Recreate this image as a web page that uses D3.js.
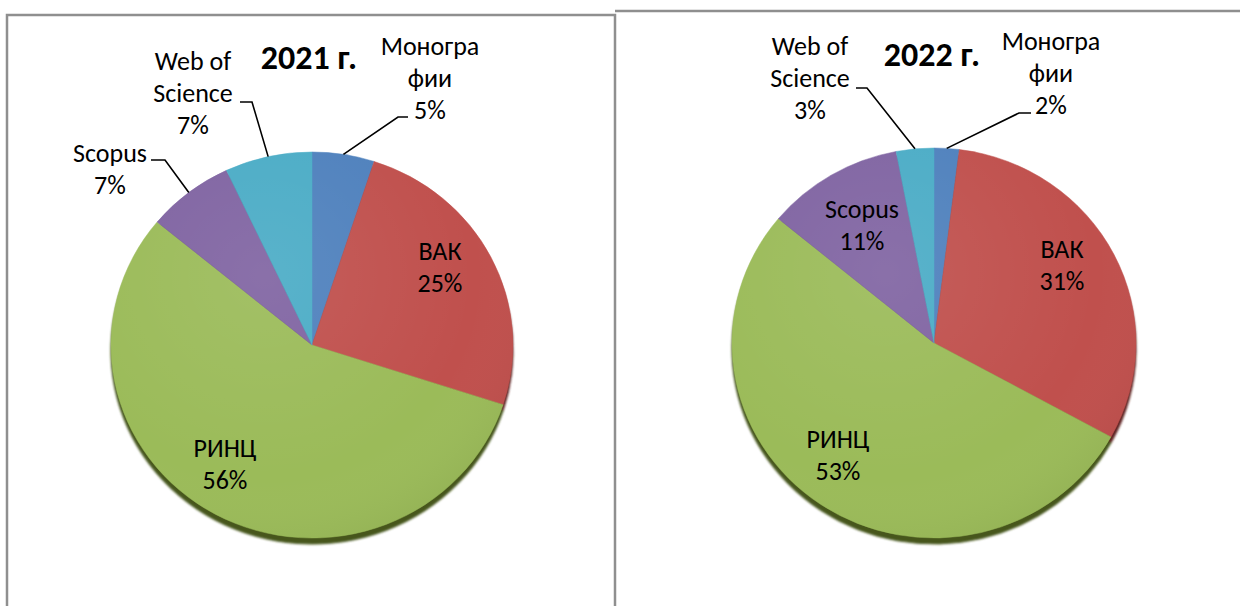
<!DOCTYPE html>
<html>
<head>
<meta charset="utf-8">
<script src="https://cdn.jsdelivr.net/npm/d3@7"></script>
<style>
  body { margin: 0; background: #fff; }
  svg { display: block; }
  text { font-family: Carlito, Calibri, Lato, sans-serif; fill: #000; }
</style>
</head>
<body>
<svg id="chart" width="1240" height="606"></svg>
<script>
// --- Données ---
const categories = ["Монографии", "ВАК", "РИНЦ", "Scopus", "Web of Science"];
const labelLines = [["Моногра", "фии"], ["ВАК"], ["РИНЦ"], ["Scopus"], ["Web of", "Science"]];
const values2021 = [5, 25, 56, 7, 7];
const values2022 = [2, 31, 53, 11, 3];
const years = ["2021 г.", "2022 г."];

const colors = ["#4F81BD", "#C0504D", "#9BBB59", "#8064A2", "#4BACC6"];
const shadowColors = ["#26405f", "#5e2321", "#46571f", "#3c2f50", "#215a6a"];

// --- Mise en page de chaque diagramme ---
const panels = [
  {
    values: values2021, title: years[0],
    cx: 312, cy: 345, rx: 201, ry: 193, titleX: 309, titleY: 69,
    labels: [
      { x: 430, y: 55, elbow: [398, 117], end: [408, 117] },
      { x: 440, y: 260 },
      { x: 225, y: 457 },
      { x: 110, y: 162, elbow: [165, 160], end: [151, 160] },
      { x: 193, y: 70, elbow: [252, 102], end: [240, 102] }
    ]
  },
  {
    values: values2022, title: years[1],
    cx: 934, cy: 343, rx: 202, ry: 195, titleX: 932, titleY: 66,
    labels: [
      { x: 1051, y: 50, elbow: [1019, 113], end: [1031, 113] },
      { x: 1062, y: 258 },
      { x: 838, y: 448 },
      { x: 862, y: 218 },
      { x: 810, y: 55, elbow: [867, 88], end: [856, 88] }
    ]
  }
];

const svg = d3.select("#chart");
const defs = svg.append("defs");

defs.append("filter").attr("id", "blur")
  .append("feGaussianBlur").attr("stdDeviation", 0.9);

const shade = defs.append("radialGradient").attr("id", "shade")
  .attr("cx", "38%").attr("cy", "32%").attr("r", "75%");
shade.append("stop").attr("offset", "0%").attr("stop-color", "#fff").attr("stop-opacity", 0.08);
shade.append("stop").attr("offset", "70%").attr("stop-color", "#fff").attr("stop-opacity", 0);
shade.append("stop").attr("offset", "100%").attr("stop-color", "#000").attr("stop-opacity", 0.05);

// Cadres
svg.append("path").attr("d", "M7,606V15H615V606")
  .attr("fill", "none").attr("stroke", "#8f8f8f").attr("stroke-width", 2.5);
svg.append("path").attr("d", "M615,11H1240")
  .attr("fill", "none").attr("stroke", "#8f8f8f").attr("stroke-width", 2.5);

const pie = d3.pie().sort(null).value(d => d);
const pct = d3.format(".0%");
const lineH = 32;

panels.forEach(p => {
  const total = d3.sum(p.values);
  const arcs = pie(p.values);
  const arc = d3.arc().innerRadius(0).outerRadius(p.rx);
  const k = p.ry / p.rx;

  const g = svg.append("g").attr("transform", `translate(${p.cx},${p.cy}) scale(1,${k})`);

  // Ombre sous le disque
  g.append("g").attr("transform", `translate(0,${6 / k})`).attr("filter", "url(#blur)")
    .selectAll("path").data(arcs).join("path")
    .attr("d", arc)
    .attr("fill", (d, i) => shadowColors[i])
    .attr("stroke", (d, i) => shadowColors[i]);

  g.append("g").selectAll("path").data(arcs).join("path")
    .attr("d", arc)
    .attr("fill", (d, i) => colors[i])
    .attr("stroke", (d, i) => colors[i])
    .attr("stroke-width", 0.5);

  g.append("circle").attr("r", p.rx).attr("fill", "url(#shade)");

  // Lignes de rappel
  arcs.forEach((d, i) => {
    const L = p.labels[i];
    if (!L.elbow) return;
    const mid = (d.startAngle + d.endAngle) / 2;
    const sx = p.cx + p.rx * Math.sin(mid);
    const sy = p.cy - p.ry * Math.cos(mid);
    svg.append("polyline")
      .attr("points", [[sx, sy], L.elbow, L.end].map(q => q.join(",")).join(" "))
      .attr("fill", "none").attr("stroke", "#000").attr("stroke-width", 1.6);
  });

  // Étiquettes
  arcs.forEach((d, i) => {
    const L = p.labels[i];
    const lines = labelLines[i].concat([pct(d.data / total)]);
    const t = svg.append("text").attr("text-anchor", "middle").attr("font-size", 26);
    lines.forEach((s, j) => {
      t.append("tspan").attr("x", L.x).attr("y", L.y + j * lineH).text(s);
    });
  });

  svg.append("text")
    .attr("x", p.titleX).attr("y", p.titleY)
    .attr("text-anchor", "middle")
    .attr("font-size", 34).attr("font-weight", "bold")
    .text(p.title);
});
</script>
</body>
</html>
